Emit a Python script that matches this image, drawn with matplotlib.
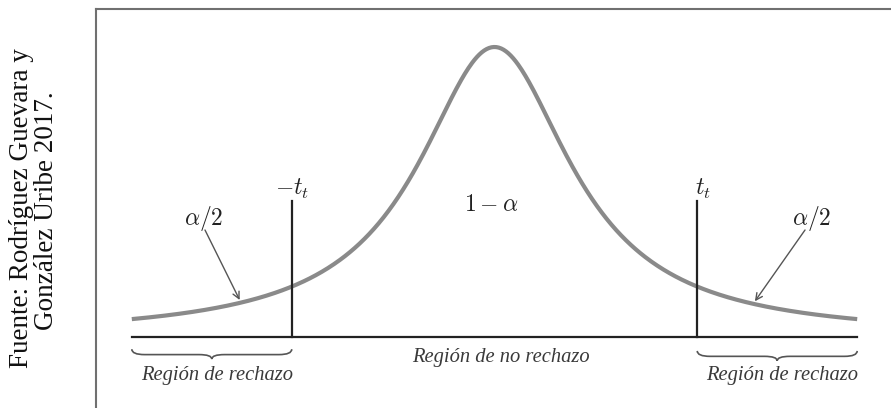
import numpy as np
import matplotlib
matplotlib.use('Agg')
import matplotlib.pyplot as plt
from matplotlib.path import Path
from matplotlib.patches import PathPatch
from matplotlib.lines import Line2D

plt.rcParams['mathtext.fontset'] = 'cm'

# t-distribution diagram parameters
df = 1.0            # degrees of freedom of the density shown
t_crit = 2.18       # critical value t_t
t_end = 3.9         # where the curve and axis stop
line_top = 0.47     # height of the critical value markers (peak = 1)
arrow_t = [-2.74, 2.80]

source_lines = ['Fuente: Rodríguez Guevara y', 'González Uribe 2017.']
region_accept = 'Región de no rechazo'
region_reject = 'Región de rechazo'

t = np.linspace(-t_end, t_end, 600)
dens = (1 + t ** 2 / df) ** (-(df + 1) / 2)

fig = plt.figure(figsize=(8.91, 4.08), dpi=100)
ax = fig.add_axes([0, 0, 1, 1])
ax.set_xlim(-494.5 / 93, (891 - 494.5) / 93)
ax.set_ylim(-(408 - 337) / 290, 337 / 290)
ax.axis('off')

# frame around the figure
fig.add_artist(Line2D([96 / 891, 1], [1 - 9 / 408] * 2, color='#707070', lw=1.5))
fig.add_artist(Line2D([96 / 891] * 2, [0, 1 - 9 / 408], color='#707070', lw=1.5))

# source note, rotated
src_kw = dict(rotation=90, rotation_mode='anchor', ha='center', va='baseline',
              family='Liberation Serif', fontsize=19.5, color='#111111')
fig.text(28 / 891, 1 - 208 / 408, source_lines[0], **src_kw)
fig.text(53 / 891, 1 - 211 / 408, source_lines[1], **src_kw)

# density curve, axis and critical values
ax.plot(t, dens, color='#8a8a8a', lw=3.0, solid_capstyle='butt', zorder=2)
ax.plot([-t_end, t_end], [0, 0], color='#222222', lw=1.6, zorder=3)
for tc in (-t_crit, t_crit):
    ax.plot([tc, tc], [0, line_top], color='#222222', lw=1.6, zorder=3)


def brace(x0, x1, y_top, depth, color='#555555'):
    xm = (x0 + x1) / 2
    w = (x1 - x0) * 0.08
    y_mid = y_top - depth * 0.55
    y_tip = y_top - depth
    verts = [(x0, y_top), (x0, y_mid), (x0 + w, y_mid),
             (xm - w, y_mid), (xm, y_mid), (xm, y_tip),
             (xm, y_mid), (xm + w, y_mid),
             (x1 - w, y_mid), (x1, y_mid), (x1, y_top)]
    codes = [Path.MOVETO, Path.CURVE3, Path.CURVE3,
             Path.LINETO, Path.CURVE3, Path.CURVE3,
             Path.CURVE3, Path.CURVE3,
             Path.LINETO, Path.CURVE3, Path.CURVE3]
    ax.add_patch(PathPatch(Path(verts, codes), fill=False, edgecolor=color, lw=1.2))


brace(-t_end, -t_crit, -0.042, 0.034)
brace(t_crit, t_end, -0.048, 0.034)

math_kw = dict(ha='center', va='center', fontsize=17, color='#222222')
ax.text(-3.124, 0.407, r'$\alpha/2$', **math_kw)
ax.text(3.414, 0.407, r'$\alpha/2$', **math_kw)
ax.text(-2.177, 0.512, r'$-t_t$', **math_kw)
ax.text(2.242, 0.512, r'$t_t$', **math_kw)
ax.text(-0.038, 0.459, r'$1-\alpha$', **math_kw)

# arrows pointing at the tails
for at, start in zip(arrow_t, [(-3.113, 0.369), (3.339, 0.369)]):
    yy = np.interp(at, t, dens)
    ax.annotate('', xy=(at, yy + 0.01), xytext=start,
                arrowprops=dict(arrowstyle='->', color='#555555', lw=1.0,
                                mutation_scale=12, shrinkA=0, shrinkB=0))

reg_kw = dict(ha='center', va='center', family='Liberation Serif', style='italic',
              fontsize=14.8, color='#3a3a3a')
ax.text(0.07, -0.069, region_accept, **reg_kw)
ax.text(-2.984, -0.134, region_reject, **reg_kw)
ax.text(3.091, -0.134, region_reject, **reg_kw)

fig.savefig('out.png', dpi=100)
